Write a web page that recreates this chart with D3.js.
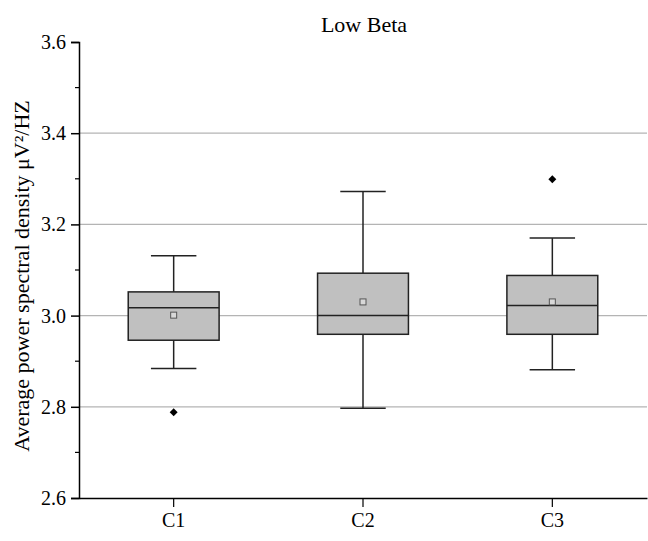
<!DOCTYPE html>
<html>
<head>
<meta charset="utf-8">
<script src="https://cdn.jsdelivr.net/npm/d3@7"></script>
<style>
  body { margin: 0; background: #fff; }
  svg text { font-family: "Liberation Serif", "Times New Roman", serif; }
</style>
</head>
<body>
<div id="chart"></div>
<script>
// Dados
const categories = ["C1", "C2", "C3"];
const whiskerLow = [2.884, 2.797, 2.881];
const q1 = [2.946, 2.959, 2.959];
const medians = [3.017, 3.000, 3.022];
const q3 = [3.052, 3.093, 3.088];
const whiskerHigh = [3.131, 3.272, 3.170];
const means = [3.001, 3.030, 3.030];
const outliers = [[2.788], [], [3.299]];
const yTicks = [2.6, 2.8, 3.0, 3.2, 3.4, 3.6];
const gridTicks = [2.8, 3.0, 3.2, 3.4];
const minorTicks = [2.7, 2.9, 3.1, 3.3, 3.5];

const data = categories.map((c, i) => ({
    cat: c,
    lo: whiskerLow[i], q1: q1[i], med: medians[i], q3: q3[i], hi: whiskerHigh[i],
    mean: means[i], out: outliers[i]
}));

const serif = "'Liberation Serif', 'Times New Roman', serif";

const margin = { top: 42, right: 1, bottom: 43, left: 79 },
    width = 648 - margin.left - margin.right,
    height = 541 - margin.top - margin.bottom;

const svg = d3.select("#chart")
    .append("svg")
    .attr("width", 648)
    .attr("height", 541);

const g = svg.append("g")
    .attr("transform", `translate(${margin.left},${margin.top})`);

const x = d3.scaleBand()
    .domain(categories)
    .range([0, width]);

const y = d3.scaleLinear()
    .domain([2.6, 3.6])
    .range([height, 0]);

// Linhas de grade
g.selectAll(".grid")
    .data(gridTicks)
    .enter()
    .append("line")
    .attr("x1", 0)
    .attr("x2", width)
    .attr("y1", d => y(d))
    .attr("y2", d => y(d))
    .attr("stroke", "#b4b4b4")
    .attr("stroke-width", 1.2);

// Eixo Y
const yAxis = g.append("g")
    .call(d3.axisLeft(y).tickValues(yTicks).tickFormat(d3.format(".1f")).tickSize(8).tickPadding(5))
    .attr("font-family", serif)
    .attr("font-size", 20);
yAxis.select(".domain").attr("stroke", "#000").attr("stroke-width", 1.5);
yAxis.selectAll(".tick line").attr("stroke-width", 1.5);
yAxis.selectAll("text").attr("fill", "#000");

g.selectAll(".minor")
    .data(minorTicks)
    .enter()
    .append("line")
    .attr("x1", -4)
    .attr("x2", 0)
    .attr("y1", d => y(d))
    .attr("y2", d => y(d))
    .attr("stroke", "#000")
    .attr("stroke-width", 1.2);

// Eixo X
const xAxis = g.append("g")
    .attr("transform", `translate(0,${height})`)
    .call(d3.axisBottom(x).tickSize(9).tickSizeOuter(0).tickPadding(6))
    .attr("font-family", serif)
    .attr("font-size", 20);
xAxis.select(".domain").attr("stroke", "#000").attr("stroke-width", 1.5);
xAxis.selectAll(".tick line").attr("stroke-width", 1.2);
xAxis.selectAll("text").attr("fill", "#000");

const boxW = x.bandwidth() * 0.48;
const capW = boxW / 2;
const cx = d => x(d.cat) + x.bandwidth() / 2;

const boxes = g.selectAll(".box")
    .data(data)
    .enter()
    .append("g")
    .attr("class", "box");

// Bigodes
boxes.append("line")
    .attr("x1", cx).attr("x2", cx)
    .attr("y1", d => y(d.hi)).attr("y2", d => y(d.q3))
    .attr("stroke", "#222").attr("stroke-width", 1.5);
boxes.append("line")
    .attr("x1", cx).attr("x2", cx)
    .attr("y1", d => y(d.q1)).attr("y2", d => y(d.lo))
    .attr("stroke", "#222").attr("stroke-width", 1.5);
boxes.append("line")
    .attr("x1", d => cx(d) - capW / 2).attr("x2", d => cx(d) + capW / 2)
    .attr("y1", d => y(d.hi)).attr("y2", d => y(d.hi))
    .attr("stroke", "#222").attr("stroke-width", 1.5);
boxes.append("line")
    .attr("x1", d => cx(d) - capW / 2).attr("x2", d => cx(d) + capW / 2)
    .attr("y1", d => y(d.lo)).attr("y2", d => y(d.lo))
    .attr("stroke", "#222").attr("stroke-width", 1.5);

// Caixas
boxes.append("rect")
    .attr("x", d => cx(d) - boxW / 2)
    .attr("y", d => y(d.q3))
    .attr("width", boxW)
    .attr("height", d => y(d.q1) - y(d.q3))
    .attr("fill", "#c0c0c0")
    .attr("stroke", "#222")
    .attr("stroke-width", 1.5);

// Mediana
boxes.append("line")
    .attr("x1", d => cx(d) - boxW / 2).attr("x2", d => cx(d) + boxW / 2)
    .attr("y1", d => y(d.med)).attr("y2", d => y(d.med))
    .attr("stroke", "#222").attr("stroke-width", 1.5);

// Média
boxes.append("rect")
    .attr("x", d => cx(d) - 3)
    .attr("y", d => y(d.mean) - 3)
    .attr("width", 6)
    .attr("height", 6)
    .attr("fill", "#d8d8d8")
    .attr("stroke", "#555")
    .attr("stroke-width", 1);

// Outliers
boxes.each(function(d) {
    d3.select(this).selectAll(".out")
        .data(d.out)
        .enter()
        .append("path")
        .attr("d", d3.symbol(d3.symbolDiamond2, 40)())
        .attr("transform", v => `translate(${cx(d)},${y(v)})`)
        .attr("fill", "#000");
});

// Título
svg.append("text")
    .attr("x", 364)
    .attr("y", 32)
    .attr("text-anchor", "middle")
    .attr("font-family", serif)
    .attr("font-size", 22)
    .text("Low Beta");

// Rótulo do eixo Y
svg.append("text")
    .attr("transform", `translate(29,276) rotate(-90)`)
    .attr("text-anchor", "middle")
    .attr("font-family", serif)
    .attr("font-size", 22)
    .text("Average power spectral density μV²/HZ");
</script>
</body>
</html>
